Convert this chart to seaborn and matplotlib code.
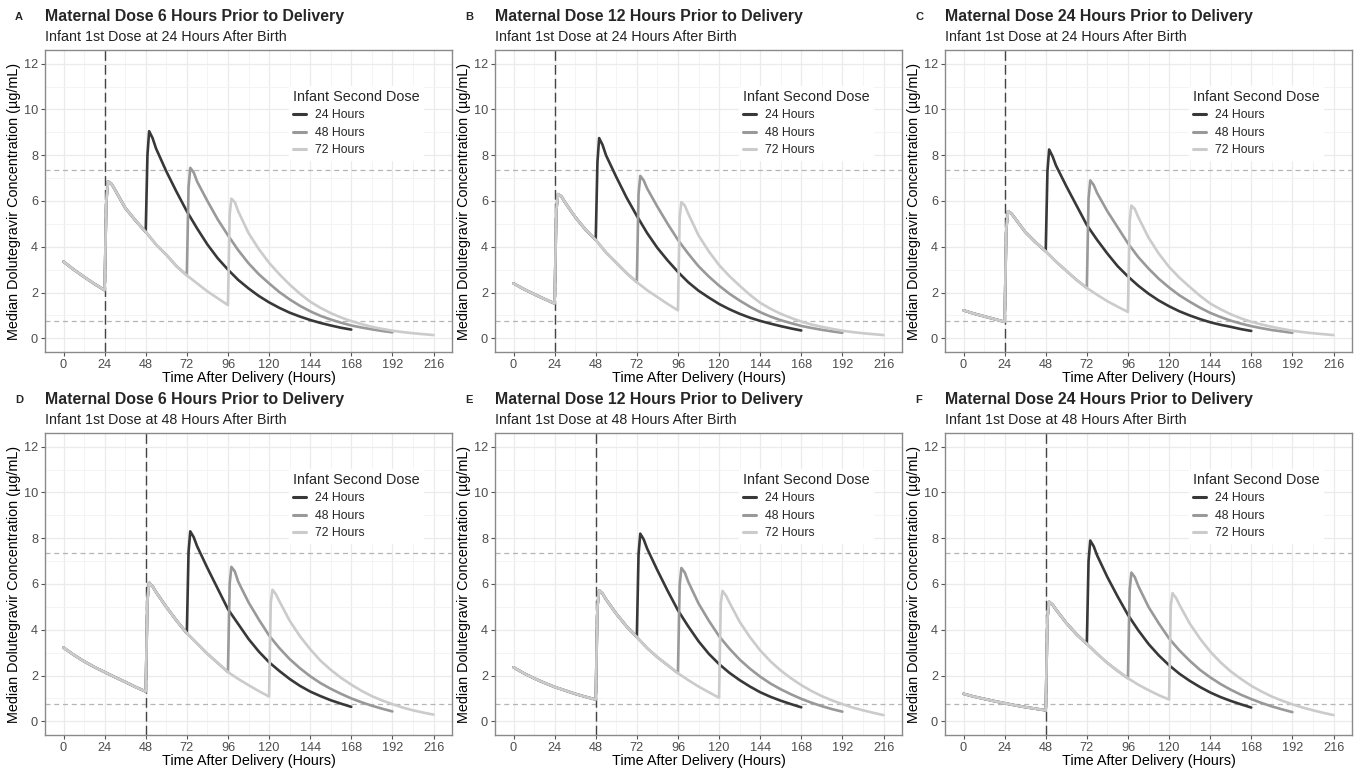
import numpy as np
import pandas as pd
import matplotlib
matplotlib.use('Agg')
import matplotlib.pyplot as plt
import seaborn as sns

# time grids (hours after delivery)
t_top_pre = [0, 6, 12, 18, 24]
t_top_first = [24, 25, 26, 28, 30, 36, 42, 48, 54, 60, 66, 72, 78, 84, 90, 96]
t_top_2nd_24 = [49, 50, 52, 54, 60, 66, 72, 78, 84, 90, 96, 102, 108, 114, 120, 126, 132, 138,
                144, 150, 156, 162, 168]
t_top_2nd_48 = [73, 74, 76, 78, 84, 90, 96, 102, 108, 114, 120, 126, 132, 138, 144, 150, 156,
                162, 168, 174, 180, 186, 192]
t_top_2nd_72 = [97, 98, 100, 102, 108, 114, 120, 126, 132, 138, 144, 150, 156, 162, 168, 174,
                180, 186, 192, 198, 204, 210, 216]

t_bot_pre = [0, 6, 12, 18, 24, 30, 36, 42, 48]
t_bot_first = [48, 49, 50, 52, 54, 60, 66, 72, 78, 84, 90, 96, 102, 108, 114, 120]
t_bot_2nd_24 = [73, 74, 76, 78, 84, 90, 96, 102, 108, 114, 120, 126, 132, 138, 144, 150, 156,
                162, 168]
t_bot_2nd_48 = [97, 98, 100, 102, 108, 114, 120, 126, 132, 138, 144, 150, 156, 162, 168, 174,
                180, 186, 192]
t_bot_2nd_72 = [121, 122, 124, 126, 132, 138, 144, 150, 156, 162, 168, 174, 180, 186, 192, 198,
                204, 210, 216]

first_dose = {'top': 24, 'bot': 48}
second_dose = {'top': [48, 72, 96], 'bot': [72, 96, 120]}
dose_labels = ['24 Hours', '48 Hours', '72 Hours']

# median concentrations (ug/mL)
a_pre = [3.35, 3.0, 2.68, 2.38, 2.1]
a_first = [2.1, 6.0, 6.85, 6.75, 6.5, 5.7, 5.15, 4.65, 4.1, 3.65, 3.15, 2.75, 2.4, 2.05, 1.75, 1.45]
a_24 = [8.0, 9.05, 8.75, 8.3, 7.3, 6.4, 5.55, 4.8, 4.1, 3.5, 3.0, 2.55, 2.18, 1.85, 1.57, 1.33,
        1.12, 0.95, 0.8, 0.67, 0.56, 0.46, 0.38]
a_48 = [6.6, 7.45, 7.25, 6.85, 6.0, 5.2, 4.5, 3.85, 3.28, 2.8, 2.4, 2.02, 1.7, 1.42, 1.18, 0.98,
        0.82, 0.68, 0.56, 0.47, 0.39, 0.32, 0.26]
a_72 = [5.4, 6.1, 5.95, 5.55, 4.6, 3.9, 3.3, 2.8, 2.35, 1.95, 1.6, 1.33, 1.1, 0.91, 0.75, 0.62,
        0.5, 0.41, 0.33, 0.27, 0.22, 0.18, 0.14]

b_pre = [2.4, 2.15, 1.93, 1.72, 1.52]
b_first = [1.52, 5.6, 6.3, 6.2, 5.95, 5.3, 4.75, 4.3, 3.75, 3.3, 2.85, 2.45, 2.1, 1.8, 1.5, 1.22]
b_24 = [7.7, 8.75, 8.45, 8.0, 7.05, 6.15, 5.35, 4.6, 3.95, 3.4, 2.9, 2.45, 2.08, 1.78, 1.5, 1.27,
        1.07, 0.9, 0.76, 0.64, 0.53, 0.43, 0.34]
b_48 = [6.3, 7.1, 6.9, 6.55, 5.75, 5.0, 4.3, 3.7, 3.15, 2.7, 2.3, 1.95, 1.65, 1.38, 1.14, 0.95,
        0.79, 0.66, 0.54, 0.45, 0.37, 0.3, 0.24]
b_72 = [5.3, 5.95, 5.8, 5.45, 4.5, 3.8, 3.2, 2.72, 2.3, 1.9, 1.55, 1.29, 1.07, 0.89, 0.73, 0.6,
        0.5, 0.41, 0.33, 0.27, 0.22, 0.18, 0.14]

c_pre = [1.22, 1.08, 0.96, 0.84, 0.72]
c_first = [0.72, 4.8, 5.55, 5.45, 5.25, 4.65, 4.2, 3.8, 3.35, 2.95, 2.55, 2.2, 1.9, 1.62, 1.38, 1.15]
c_24 = [7.3, 8.25, 7.95, 7.55, 6.65, 5.8, 4.95, 4.3, 3.7, 3.15, 2.7, 2.3, 1.95, 1.65, 1.4, 1.18,
        1.0, 0.84, 0.7, 0.59, 0.5, 0.4, 0.32]
c_48 = [6.1, 6.9, 6.7, 6.35, 5.55, 4.85, 4.15, 3.55, 3.05, 2.6, 2.22, 1.88, 1.6, 1.34, 1.11, 0.93,
        0.77, 0.64, 0.53, 0.44, 0.36, 0.3, 0.24]
c_72 = [5.1, 5.8, 5.65, 5.3, 4.4, 3.7, 3.12, 2.65, 2.25, 1.86, 1.52, 1.27, 1.05, 0.87, 0.72, 0.6,
        0.5, 0.41, 0.33, 0.27, 0.22, 0.18, 0.14]

d_pre = [3.22, 2.9, 2.62, 2.37, 2.15, 1.93, 1.72, 1.5, 1.3]
d_first = [1.3, 5.3, 6.05, 5.9, 5.65, 5.0, 4.4, 3.85, 3.4, 2.95, 2.55, 2.15, 1.85, 1.58, 1.32, 1.08]
d_24 = [7.4, 8.3, 8.05, 7.65, 6.7, 5.8, 4.9, 4.25, 3.6, 3.05, 2.58, 2.2, 1.85, 1.55, 1.3, 1.1,
        0.92, 0.77, 0.63]
d_48 = [6.0, 6.75, 6.55, 6.1, 5.2, 4.45, 3.75, 3.2, 2.72, 2.32, 1.97, 1.67, 1.42, 1.2, 1.0, 0.83,
        0.68, 0.55, 0.43]
d_72 = [5.2, 5.75, 5.55, 5.25, 4.4, 3.72, 3.15, 2.65, 2.25, 1.9, 1.6, 1.33, 1.1, 0.91, 0.75, 0.6,
        0.48, 0.38, 0.29]

e_pre = [2.36, 2.1, 1.88, 1.68, 1.5, 1.35, 1.2, 1.07, 0.95]
e_first = [0.95, 5.0, 5.72, 5.58, 5.33, 4.7, 4.15, 3.68, 3.2, 2.8, 2.45, 2.1, 1.8, 1.52, 1.27, 1.03]
e_24 = [7.3, 8.2, 7.95, 7.55, 6.6, 5.7, 4.85, 4.15, 3.5, 2.95, 2.5, 2.12, 1.8, 1.52, 1.27, 1.07,
        0.9, 0.75, 0.61]
e_48 = [5.95, 6.7, 6.5, 6.1, 5.15, 4.4, 3.72, 3.18, 2.7, 2.3, 1.95, 1.65, 1.4, 1.18, 0.98, 0.81,
        0.66, 0.53, 0.42]
e_72 = [5.15, 5.7, 5.5, 5.2, 4.35, 3.68, 3.1, 2.62, 2.22, 1.88, 1.58, 1.32, 1.1, 0.91, 0.75, 0.6,
        0.48, 0.37, 0.27]

f_pre = [1.2, 1.08, 0.98, 0.88, 0.79, 0.7, 0.62, 0.55, 0.48]
f_first = [0.48, 4.5, 5.22, 5.1, 4.88, 4.3, 3.8, 3.38, 2.95, 2.55, 2.2, 1.88, 1.6, 1.36, 1.14, 0.95]
f_24 = [7.0, 7.9, 7.65, 7.25, 6.3, 5.45, 4.65, 3.98, 3.38, 2.88, 2.45, 2.08, 1.77, 1.5, 1.26, 1.06,
        0.89, 0.74, 0.6]
f_48 = [5.75, 6.5, 6.3, 5.92, 5.0, 4.28, 3.62, 3.1, 2.65, 2.25, 1.92, 1.63, 1.38, 1.16, 0.97, 0.8,
        0.65, 0.52, 0.4]
f_72 = [5.05, 5.6, 5.4, 5.1, 4.28, 3.62, 3.05, 2.58, 2.18, 1.85, 1.55, 1.3, 1.08, 0.9, 0.74, 0.6,
        0.48, 0.37, 0.27]

target_hi = 7.34
target_lo = 0.77

panels = [
    ('A', 'Maternal Dose 6 Hours Prior to Delivery', 'top', a_pre, a_first, [a_24, a_48, a_72]),
    ('B', 'Maternal Dose 12 Hours Prior to Delivery', 'top', b_pre, b_first, [b_24, b_48, b_72]),
    ('C', 'Maternal Dose 24 Hours Prior to Delivery', 'top', c_pre, c_first, [c_24, c_48, c_72]),
    ('D', 'Maternal Dose 6 Hours Prior to Delivery', 'bot', d_pre, d_first, [d_24, d_48, d_72]),
    ('E', 'Maternal Dose 12 Hours Prior to Delivery', 'bot', e_pre, e_first, [e_24, e_48, e_72]),
    ('F', 'Maternal Dose 24 Hours Prior to Delivery', 'bot', f_pre, f_first, [f_24, f_48, f_72]),
]
times = {
    'top': (t_top_pre, t_top_first, [t_top_2nd_24, t_top_2nd_48, t_top_2nd_72]),
    'bot': (t_bot_pre, t_bot_first, [t_bot_2nd_24, t_bot_2nd_48, t_bot_2nd_72]),
}


def build_frame(row, pre, first, seconds):
    t_pre, t_first, t_seconds = times[row]
    parts = []
    for label, dose, t2, c2 in zip(dose_labels, second_dose[row], t_seconds, seconds):
        # pre-delivery part, first dose curve up to the second dose, then second dose curve
        keep = [i for i, t in enumerate(t_first) if 0 < i and t <= dose]
        t = list(t_pre) + [t_first[i] for i in keep] + list(t2)
        c = list(pre) + [first[i] for i in keep] + list(c2)
        parts.append(pd.DataFrame({'time': t, 'conc': c, 'dose': label}))
    return pd.concat(parts, ignore_index=True)


sns.set_theme(style='white')
plt.rcParams['font.family'] = ['Liberation Sans', 'DejaVu Sans']

palette = {'24 Hours': '#383838', '48 Hours': '#999999', '72 Hours': '#cbcbcb'}
W, H = 1358, 770
fig = plt.figure(figsize=(W / 100, H / 100), dpi=100)

lefts = [45, 495, 945]
tops = {'top': 50, 'bot': 433}
pw, ph = 407, 302

for k, (letter, title, row, pre, first, seconds) in enumerate(panels):
    left = lefts[k % 3]
    top = tops[row]
    ax = fig.add_axes([left / W, 1 - (top + ph) / H, pw / W, ph / H])
    df = build_frame(row, pre, first, seconds)

    ax.set_xlim(-10.8, 226.8)
    ax.set_ylim(-0.6, 12.6)
    ax.set_xticks(np.arange(0, 217, 24))
    ax.set_xticks(np.arange(12, 217, 24), minor=True)
    ax.set_yticks(np.arange(0, 13, 2))
    ax.set_yticks(np.arange(1, 13, 2), minor=True)
    ax.grid(which='major', color='#ebebeb', linewidth=0.9)
    ax.grid(which='minor', color='#f3f3f3', linewidth=0.6)
    ax.set_axisbelow(True)

    ax.axhline(target_hi, color='#b5b5b5', linewidth=0.9, linestyle=(0, (4, 3)), zorder=1)
    ax.axhline(target_lo, color='#b5b5b5', linewidth=0.9, linestyle=(0, (4, 3)), zorder=1)
    ax.axvline(first_dose[row], color='#444444', linewidth=1.0, linestyle=(0, (7, 3)), zorder=1)

    sns.lineplot(data=df, x='time', y='conc', hue='dose', hue_order=dose_labels,
                 palette=palette, linewidth=1.9, estimator=None, sort=False, ax=ax)

    handles, labels = ax.get_legend_handles_labels()
    leg = ax.legend(handles, labels, title='Infant Second Dose', loc='upper left',
                    bbox_to_anchor=(0.585, 0.9), frameon=True, framealpha=1,
                    facecolor='white', edgecolor='white', fontsize=8.8,
                    title_fontsize=10.4, handlelength=1.1, handletextpad=0.7,
                    labelspacing=0.45, borderpad=0.3, alignment='left')
    for line in leg.get_lines():
        line.set_linewidth(2.2)

    for s in ax.spines.values():
        s.set_color('#8a8a8a')
        s.set_linewidth(1.0)
    ax.tick_params(axis='both', which='major', length=3, width=0.8, color='#555555',
                   labelcolor='#4d4d4d', labelsize=9.2, pad=2, bottom=True, left=True)
    ax.tick_params(which='minor', length=0)
    ax.set_xlabel('Time After Delivery (Hours)', fontsize=10.4, color='black', labelpad=0)
    ax.set_ylabel('Median Dolutegravir Concentration (\u00b5g/mL)', fontsize=10.4,
                  color='black', labelpad=2)

    fig.text((left - 30) / W, 1 - (top - 33) / H, letter, fontsize=8, fontweight='bold',
             va='center')
    fig.text(left / W, 1 - (top - 33) / H, title, fontsize=11.4, fontweight='bold',
             va='center')
    fig.text(left / W, 1 - (top - 13) / H,
             'Infant 1st Dose at %d Hours After Birth' % first_dose[row],
             fontsize=10.3, color='#222222', va='center')

fig.savefig('out.png', dpi=100, facecolor='white')
